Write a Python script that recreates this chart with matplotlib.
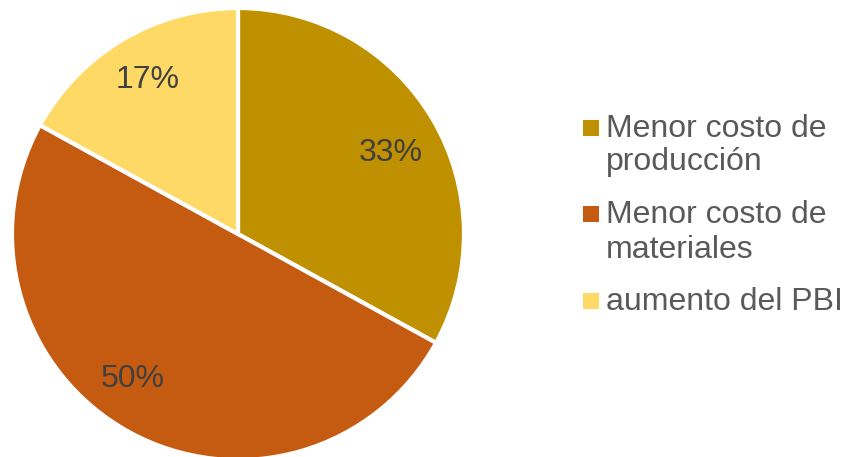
import matplotlib.pyplot as plt
from matplotlib.patches import Rectangle

plt.rcParams['font.family'] = ['Liberation Sans', 'DejaVu Sans']

labels = ['Menor costo de\nproducción', 'Menor costo de\nmateriales', 'aumento del PBI']
values = [33, 50, 17]
colors = ['#BF9000', '#C55A11', '#FFD966']

W, H = 846, 457
fig = plt.figure(figsize=(W / 100, H / 100), dpi=100)
# pie centre ~ (238, 234) px, radius ~226 px
cx, cy, r = 238, 234, 226
ax = fig.add_axes([(cx - r) / W, (H - cy - r) / H, 2 * r / W, 2 * r / H])

wedges, texts, autotexts = ax.pie(
    values, colors=colors, startangle=90, counterclock=False,
    autopct='%1.0f%%', pctdistance=0.78,
    wedgeprops=dict(edgecolor='white', linewidth=3),
    textprops=dict(fontsize=23, color='#404040'))
ax.set_xlim(-1, 1)
ax.set_ylim(-1, 1)
ax.set_aspect('equal')

# label placement as in the original (best fit)
label_pos = [(0.677, 0.36), (-0.465, -0.64), (-0.398, 0.681)]
for t, p in zip(autotexts, label_pos):
    t.set_position(p)

# legend drawn by hand so the square sits on the first line
baselines = [[137, 170], [223, 258], [310]]
for lab, col, bl in zip(labels, colors, baselines):
    y0 = bl[0]
    fig.patches.append(Rectangle((583 / W, 1 - (y0 - 1) / H), 16 / W, 16 / H,
                                 transform=fig.transFigure, facecolor=col,
                                 edgecolor='none'))
    for line, y in zip(lab.split('\n'), bl):
        fig.text(606 / W, 1 - y / H, line, fontsize=23, color='#595959',
                 va='baseline', ha='left')

fig.savefig('out.png', dpi=100)
